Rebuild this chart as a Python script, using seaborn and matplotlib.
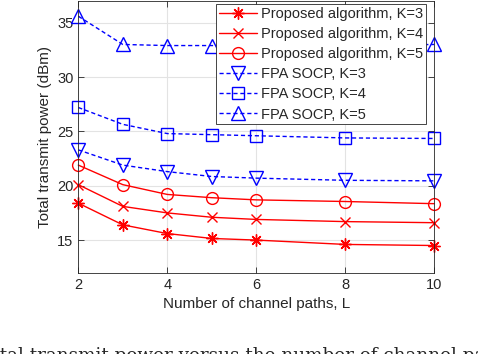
# Total transmit power vs number of channel paths
import numpy as np
import pandas as pd
import matplotlib
matplotlib.use('Agg')
import matplotlib.pyplot as plt
import seaborn as sns

# data
L = [2, 3, 4, 5, 6, 8, 10]
prop_k3 = [18.4, 16.4, 15.6, 15.15, 15.0, 14.6, 14.5]
prop_k4 = [20.1, 18.1, 17.5, 17.1, 16.9, 16.7, 16.6]
prop_k5 = [21.9, 20.1, 19.2, 18.9, 18.7, 18.55, 18.35]
fpa_k3 = [23.3, 21.9, 21.3, 20.85, 20.7, 20.5, 20.45]
fpa_k4 = [27.2, 25.65, 24.8, 24.7, 24.6, 24.4, 24.35]
fpa_k5 = [35.6, 33.0, 32.9, 32.9, 32.9, 32.9, 33.0]

labels = ['Proposed algorithm, K=3', 'Proposed algorithm, K=4', 'Proposed algorithm, K=5',
          'FPA SOCP, K=3', 'FPA SOCP, K=4', 'FPA SOCP, K=5']
series = [prop_k3, prop_k4, prop_k5, fpa_k3, fpa_k4, fpa_k5]

sns.set_style('ticks')
plt.rcParams['font.family'] = ['Liberation Sans', 'DejaVu Sans']

fig = plt.figure(figsize=(4.78, 3.54), dpi=100)
ax = fig.add_axes([0.1638, 0.2297, 0.7448, 0.7675])

dash = (0, (3, 2))
styles = [
    dict(color='red', marker=(8, 2, 0), ms=8.6, ls='-'),
    dict(color='red', marker='x', ms=7.2, ls='-'),
    dict(color='red', marker='o', ms=8.5, ls='-'),
    dict(color='blue', marker='v', ms=9.5, ls=dash),
    dict(color='blue', marker='s', ms=8.5, ls=dash),
    dict(color='blue', marker='^', ms=10, ls=dash),
]

for lab, vals, st in zip(labels, series, styles):
    df = pd.DataFrame({'L': L, 'P': vals})
    sns.lineplot(data=df, x='L', y='P', ax=ax, label=lab, color=st['color'],
                 marker=st['marker'], markersize=st['ms'], linestyle=st['ls'],
                 markerfacecolor='none', markeredgecolor=st['color'],
                 markeredgewidth=1.0, linewidth=1.0, clip_on=False)

ax.set_xlim(2, 10)
ax.set_ylim(12, 37)
ax.set_xticks([2, 4, 6, 8, 10])
ax.set_yticks([15, 20, 25, 30, 35])
ax.grid(True, color='#e3e3e3', linewidth=0.8)
ax.tick_params(direction='in', top=True, right=True, labelsize=10.5, colors='#262626',
               length=4, width=0.6)
for s in ax.spines.values():
    s.set_color('#262626')
    s.set_linewidth(0.6)
ax.set_xlabel('Number of channel paths, L', fontsize=11, color='#262626')
ax.set_ylabel('Total transmit power (dBm)', fontsize=11, color='#262626')

leg = ax.legend(loc='upper right', bbox_to_anchor=(426 / 478, 1 - 4 / 354),
                bbox_transform=fig.transFigure, fontsize=10.5, frameon=True,
                framealpha=1, fancybox=False, edgecolor='#262626', borderpad=0.2,
                labelspacing=0.42, handlelength=2.6, handletextpad=0.3, borderaxespad=0)
leg.get_frame().set_linewidth(0.6)
leg.set_zorder(5)

# caption, cut off at the bottom of the image
fig.text(-0.047, -0.02, 'Total transmit power versus the number of channel paths',
         fontsize=13.2, family='DejaVu Serif', ha='left', va='baseline')

fig.savefig('out.png', dpi=100)
